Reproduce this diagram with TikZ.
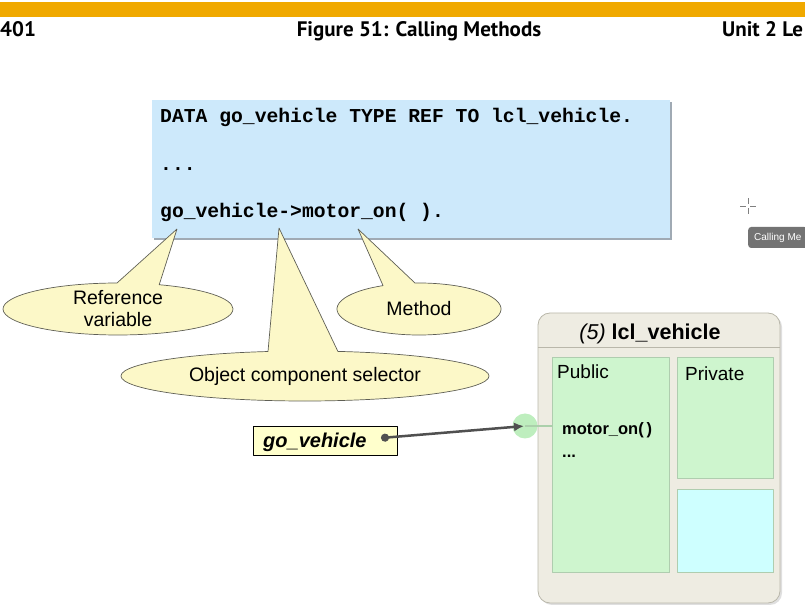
\documentclass[tikz,border=0pt]{standalone}
\usepackage{fontspec}
\setmainfont{Liberation Sans}
\newfontfamily\codefont{Liberation Mono}
\newfontfamily\headfont{PT Sans}
\usetikzlibrary{shadows,arrows.meta}
\definecolor{barcol}{RGB}{240,169,0}
\definecolor{codefill}{RGB}{205,233,251}
\definecolor{codeshadow}{RGB}{160,170,180}
\definecolor{calloutfill}{RGB}{252,248,200}
\definecolor{calloutline}{RGB}{95,95,85}
\definecolor{gofill}{RGB}{255,255,204}
\definecolor{refcol}{RGB}{80,80,80}
\definecolor{classfill}{RGB}{238,236,226}
\definecolor{classline}{RGB}{185,183,170}
\definecolor{pubfill}{RGB}{206,245,206}
\definecolor{publine}{RGB}{175,205,175}
\definecolor{extfill}{RGB}{206,255,255}
\definecolor{portfill}{RGB}{190,238,190}
\definecolor{tipfill}{RGB}{115,115,115}
\begin{document}
\begin{tikzpicture}[>=latex,line join=bevel,
  headtext/.style={anchor=base,inner sep=0pt,font=\headfont\bfseries\fontsize{21bp}{24bp}\selectfont},
  codebox/.style={rectangle,fill=codefill,inner sep=0pt,
    drop shadow={shadow xshift=2bp,shadow yshift=-2bp,fill=codeshadow,opacity=1}},
  codeline/.style={anchor=base west,inner sep=0pt,font=\codefont\bfseries\fontsize{19.7bp}{22bp}\selectfont},
  callout/.style={draw=calloutline,fill=calloutfill,line width=0.7bp},
  calltext/.style={inner sep=0pt,align=center,font=\fontsize{19.5bp}{22bp}\selectfont},
  classbox/.style={rectangle,rounded corners=12bp,fill=classfill,draw=classline,line width=0.8bp,
    drop shadow={shadow xshift=2bp,shadow yshift=-2bp,opacity=0.25}},
  partbox/.style={rectangle,inner sep=0pt,draw=publine,line width=0.5bp,
    drop shadow={shadow xshift=1bp,shadow yshift=-1bp,opacity=0.3}},
  parttext/.style={anchor=base west,inner sep=0pt,font=\fontsize{19bp}{22bp}\selectfont},
  membertext/.style={anchor=base west,inner sep=0pt,font=\bfseries\fontsize{16.5bp}{20bp}\selectfont},
  refarrow/.style={{Circle[length=8bp]}-{Latex[length=10bp,width=9bp]},draw=refcol,line width=2.5bp},
]
  \useasboundingbox (0,0) rectangle (805bp,615bp);
%%
  % Node: header
  \fill [barcol] (0bp,598bp) rectangle (805bp,613bp);
  \node [headtext,anchor=base west] (page_no) at (0bp,578bp) {401};
  \node [headtext] (fig_title) at (419bp,578bp) {Figure 51: Calling Methods};
  \node [headtext,anchor=base west] (unit_title) at (722bp,578bp) {Unit 2 Le};
  % Node: code_box
\begin{scope}
  \node [codebox,minimum width=518bp,minimum height=138bp] (code_box) at (411bp,446bp) {};
  \node [codeline] (code_1) at (160bp,492bp) {DATA go\_vehicle TYPE REF TO lcl\_vehicle.};
  \node [codeline] (code_2) at (160bp,444bp) {...};
  \node [codeline] (code_3) at (160bp,397bp) {go\_vehicle->motor\_on( ).};
\end{scope}
  \coordinate (ref_tip) at (177bp,386bp);
  \coordinate (sel_tip) at (279bp,387bp);
  \coordinate (meth_tip) at (358bp,386bp);
  % Node: ref_var
  \coordinate (ref_c) at (118bp,306bp);
  \draw [callout] ([shift={(90.5:115bp and 26bp)}]ref_c) arc [start angle=90.5,end angle=429,x radius=115bp,y radius=26bp] -- (ref_tip) -- cycle;
  \node [calltext] (ref_var) at (ref_c) {Reference\\variable};
  % Node: method
  \coordinate (meth_c) at (419bp,306bp);
  \draw [callout] ([shift={(116:82bp and 26bp)}]meth_c) arc [start angle=116,end angle=452.8,x radius=82bp,y radius=26bp] -- (meth_tip) -- cycle;
  \node [calltext] (method) at (meth_c) {Method};
  % Node: obj_sel
  \coordinate (sel_c) at (305bp,239bp);
  \draw [callout] ([shift={(101.6:184bp and 25bp)}]sel_c) arc [start angle=101.6,end angle=439.7,x radius=184bp,y radius=25bp] -- (sel_tip) -- cycle;
  \node [calltext] (obj_sel) at (sel_c) {Object component selector};
  % Node: lcl_vehicle
\begin{scope}
  \node [classbox,minimum width=242bp,minimum height=290bp] (class_box) at (659bp,157bp) {};
  \node [anchor=base,inner sep=0pt,font=\fontsize{21.5bp}{24bp}\selectfont] (class_title) at (650bp,275bp) {\textit{(5)} \textbf{lcl\_vehicle}};
  \draw [classline,line width=1bp] ([yshift=-35bp]class_box.north west) -- ([yshift=-35bp]class_box.north east);
  \node [partbox,fill=pubfill,minimum width=117bp,minimum height=215bp] (public) at (610.5bp,150.5bp) {};
  \node [partbox,fill=pubfill,minimum width=96bp,minimum height=121bp] (private) at (725bp,197.5bp) {};
  \node [partbox,fill=extfill,minimum width=96bp,minimum height=83bp] (extra) at (725bp,84.5bp) {};
  \node [parttext] (public_lbl) at (557bp,236bp) {Public};
  \node [parttext] (private_lbl) at (685bp,234bp) {Private};
  \node [membertext] (motor_on) at (562bp,180bp) {motor\_on(\,)};
  \node [membertext] (more) at (562bp,157bp) {...};
\end{scope}
  % Node: port
  \node [circle,fill=portfill,minimum size=25bp,inner sep=0pt] (port) at (525bp,189bp) {};
  % Edge: port -> public
  \draw [portfill!85!black!90,line width=2.5bp] (port.center) -- (port -| public.west);
  % Node: go_vehicle
  \node [rectangle,draw=black,fill=gofill,line width=0.8bp,minimum width=144bp,minimum height=29bp] (go_box) at (325bp,174.5bp) {};
  \node [anchor=base west,inner sep=0pt,font=\bfseries\itshape\fontsize{20bp}{24bp}\selectfont] (go_vehicle) at (263bp,167bp) {go\_vehicle};
  \coordinate (go_dot) at (381bp,177bp);
  % Edge: go_vehicle -> port
  \draw [refarrow,shorten >=1bp] (go_dot) -- (port.center);
  % Node: tooltip
  \node [rectangle,rounded corners=3bp,fill=tipfill,anchor=west,minimum height=21bp,inner xsep=6bp,
    text=white,font=\fontsize{10bp}{12bp}\selectfont] (tooltip) at (748bp,377.5bp) {Calling Me};
  \coordinate (cursor) at (748bp,409bp);
  \draw [gray,line width=0.8bp] ([xshift=-8bp]cursor) -- ([xshift=-2bp]cursor) ([xshift=2bp]cursor) -- ([xshift=8bp]cursor)
    ([yshift=-8bp]cursor) -- ([yshift=-2bp]cursor) ([yshift=2bp]cursor) -- ([yshift=8bp]cursor);
%
\end{tikzpicture}
\end{document}
